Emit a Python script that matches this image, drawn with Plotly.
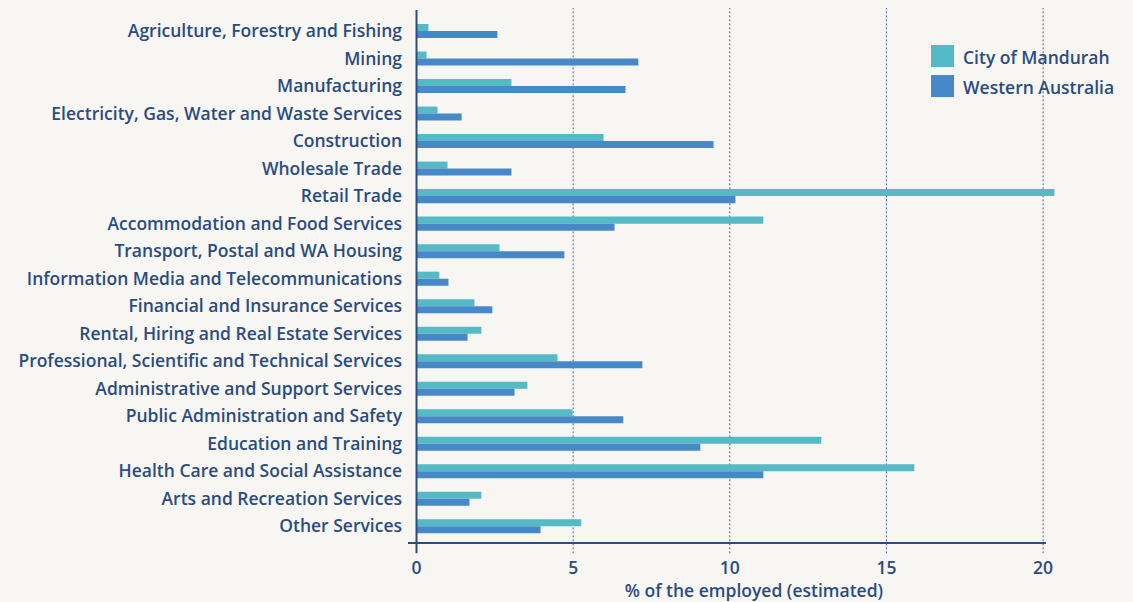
import plotly.graph_objects as go

categories = [
    "Agriculture, Forestry and Fishing",
    "Mining",
    "Manufacturing",
    "Electricity, Gas, Water and Waste Services",
    "Construction",
    "Wholesale Trade",
    "Retail Trade",
    "Accommodation and Food Services",
    "Transport, Postal and WA Housing",
    "Information Media and Telecommunications",
    "Financial and Insurance Services",
    "Rental, Hiring and Real Estate Services",
    "Professional, Scientific and Technical Services",
    "Administrative and Support Services",
    "Public Administration and Safety",
    "Education and Training",
    "Health Care and Social Assistance",
    "Arts and Recreation Services",
    "Other Services",
]
mandurah = [0.38, 0.32, 3.03, 0.67, 5.97, 0.99, 20.36, 11.07, 2.65, 0.73,
            1.85, 2.07, 4.50, 3.54, 4.98, 12.92, 15.89, 2.07, 5.26]
western_australia = [2.58, 7.08, 6.67, 1.44, 9.48, 3.03, 10.18, 6.32, 4.72, 1.02,
                     2.42, 1.63, 7.21, 3.13, 6.60, 9.06, 11.07, 1.69, 3.96]
series_names = ["City of Mandurah", "Western Australia"]
x_ticks = [0, 5, 10, 15, 20]
x_title = "% of the employed (estimated)"

TEAL = "#56BAC6"
BLUE = "#4788C8"
NAVY = "#2B4C7E"
GRID = "#4A6594"
BG = "#F7F6F2"
FONT = "Open Sans"
FS = 17.5
FW = 600

W, H = 1133, 602
L, R, T, B = 408, 33, 10, 59.3
PW, PH = W - L - R, H - T - B
UNIT = 31.33
x0 = (L - 416.5) / UNIT
x1 = x0 + PW / UNIT


def px_x(p):
    return (p - L) / PW


def px_y(p):
    return (H - B - p) / PH


def fnt():
    return dict(family=FONT, size=FS, color=NAVY, weight=FW)


fig = go.Figure()
fig.add_trace(go.Bar(y=categories, x=mandurah, orientation="h", name=series_names[0],
                     marker=dict(color=TEAL, line=dict(width=0)), showlegend=False))
fig.add_trace(go.Bar(y=categories, x=western_australia, orientation="h", name=series_names[1],
                     marker=dict(color=BLUE, line=dict(width=0)), showlegend=False))

shapes = []
for t in x_ticks[1:]:
    shapes.append(dict(type="line", xref="x", yref="paper", x0=t, x1=t,
                       y0=px_y(553), y1=px_y(8), layer="below",
                       line=dict(color=GRID, width=1, dash="2px,2px")))
# axis lines
shapes.append(dict(type="line", xref="x", yref="paper", x0=0, x1=0,
                   y0=px_y(553), y1=1, layer="above",
                   line=dict(color=NAVY, width=2)))
shapes.append(dict(type="line", xref="paper", yref="paper", x0=0, x1=px_x(1046),
                   y0=0, y1=0, layer="above",
                   line=dict(color=NAVY, width=2)))

annotations = []
for i, (name, col) in enumerate(zip(series_names, [TEAL, BLUE])):
    top = 45 + i * 30
    shapes.append(dict(type="rect", xref="paper", yref="paper",
                       x0=px_x(931), x1=px_x(954), y0=px_y(top + 22), y1=px_y(top),
                       fillcolor=col, line=dict(width=0), layer="above"))
    annotations.append(dict(text=name, xref="paper", yref="paper",
                            x=px_x(961), y=px_y(top + 11.5), xanchor="left", yanchor="middle",
                            showarrow=False, font=fnt()))

fig.update_layout(
    width=W, height=H,
    margin=dict(l=L, r=R, t=T, b=B, pad=0, autoexpand=False),
    paper_bgcolor=BG, plot_bgcolor=BG,
    barmode="group", bargap=0.49, bargroupgap=0,
    font=fnt(),
    shapes=shapes, annotations=annotations,
    xaxis=dict(range=[x0, x1], tickvals=x_ticks, ticktext=[str(t) for t in x_ticks],
               showgrid=False, zeroline=False, showline=False, ticks="",
               automargin=False, ticklabelstandoff=12,
               title=dict(text=x_title, standoff=8, font=fnt()),
               tickfont=fnt()),
    yaxis=dict(categoryorder="array", categoryarray=categories,
               range=[18.607, -0.764], showgrid=False, zeroline=False, showline=False,
               automargin=False, ticks="", ticklabelstandoff=5, tickfont=fnt()),
)

fig.write_html("out.html", config={"displayModeBar": False},
               post_script="document.body.style.margin='0';document.body.style.background='%s';" % BG)
